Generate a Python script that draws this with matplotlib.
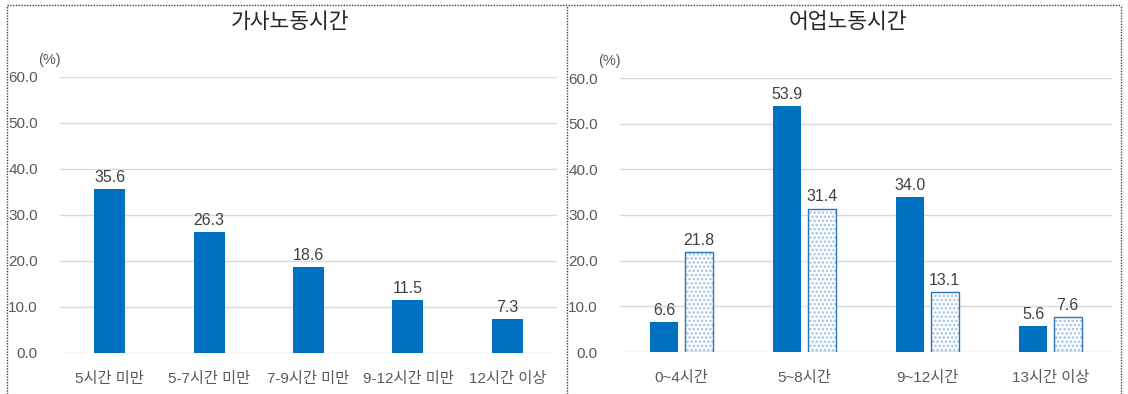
import matplotlib
matplotlib.use("Agg")
import matplotlib.pyplot as plt
from matplotlib.lines import Line2D

plt.rcParams['font.family'] = ['Liberation Sans', 'Noto Sans CJK KR', 'DejaVu Sans']
plt.rcParams['hatch.linewidth'] = 1.2

# 가사노동시간
house_cats = ["5시간 미만", "5-7시간 미만", "7-9시간 미만", "9-12시간 미만", "12시간 이상"]
house_vals = [35.6, 26.3, 18.6, 11.5, 7.3]

# 어업노동시간
fish_cats = ["0~4시간", "5~8시간", "9~12시간", "13시간 이상"]
fish_a = [6.6, 53.9, 34.0, 5.6]
fish_b = [21.8, 31.4, 13.1, 7.6]

yticks = [0, 10, 20, 30, 40, 50, 60]

BLUE = "#0070C0"
DOT = "#9DC3E6"
GRID = "#D9D9D9"
TICK = "#595959"
LAB = "#404040"

W, H = 1128, 394
fig = plt.figure(figsize=(W / 100, H / 100), dpi=100)


def px(x0, y0, x1, y1):
    return [x0 / W, 1 - y1 / H, (x1 - x0) / W, (y1 - y0) / H]


def style(ax):
    ax.set_ylim(0, 60)
    ax.set_yticks(yticks)
    ax.set_yticklabels([f"{v:.1f}" for v in yticks])
    ax.yaxis.grid(True, color=GRID, lw=1)
    ax.set_axisbelow(True)
    for s in ax.spines.values():
        s.set_visible(False)
    ax.tick_params(axis="both", length=0, colors=TICK, labelsize=11)
    ax.tick_params(axis="y", pad=16)
    ax.tick_params(axis="x", pad=14)
    ax.text(-0.022, 1.035, "(%)", transform=ax.transAxes, ha="center", va="bottom",
            fontsize=10.5, color=TICK)


# left panel
ax1 = fig.add_axes(px(60, 77, 557, 353))
x1 = list(range(len(house_cats)))
b = ax1.bar(x1, house_vals, width=0.31, color=BLUE)
ax1.bar_label(b, fmt="%.1f", padding=3, fontsize=11.5, color=LAB)
ax1.set_xticks(x1)
ax1.set_xticklabels(house_cats)
ax1.set_xlim(-0.5, len(house_cats) - 0.5)
style(ax1)
fig.text(290 / W, 1 - 22 / H, "가사노동시간", ha="center", va="center", fontsize=15.5,
         fontweight="light", color="#262626")

# right panel
ax2 = fig.add_axes(px(620, 78, 1112, 352))
x2 = list(range(len(fish_cats)))
bw = 0.23
off = 0.14
ba = ax2.bar([i - off for i in x2], fish_a, width=bw, color=BLUE)
ax2.bar([i + off for i in x2], fish_b, width=bw, color="white", hatch="....",
        edgecolor=DOT, linewidth=0)
bb = ax2.bar([i + off for i in x2], fish_b, width=bw, fill=False,
             edgecolor="#2E75B6", linewidth=1)
ax2.bar_label(ba, fmt="%.1f", padding=3, fontsize=11.5, color=LAB)
ax2.bar_label(bb, fmt="%.1f", padding=3, fontsize=11.5, color=LAB)
ax2.set_xticks(x2)
ax2.set_xticklabels(fish_cats)
ax2.set_xlim(-0.5, len(fish_cats) - 0.5)
style(ax2)
fig.text(848 / W, 1 - 22 / H, "어업노동시간", ha="center", va="center", fontsize=15.5,
         fontweight="light", color="#262626")

# dotted panel borders
kw = dict(color="#404040", lw=1, ls=(0, (1, 1)), transform=fig.transFigure)
fig.add_artist(Line2D([7 / W, 1121 / W], [1 - 5 / H, 1 - 5 / H], **kw))
for xv in (7, 567, 1121):
    fig.add_artist(Line2D([xv / W, xv / W], [0, 1 - 5 / H], **kw))

fig.savefig("out.png", dpi=100)
